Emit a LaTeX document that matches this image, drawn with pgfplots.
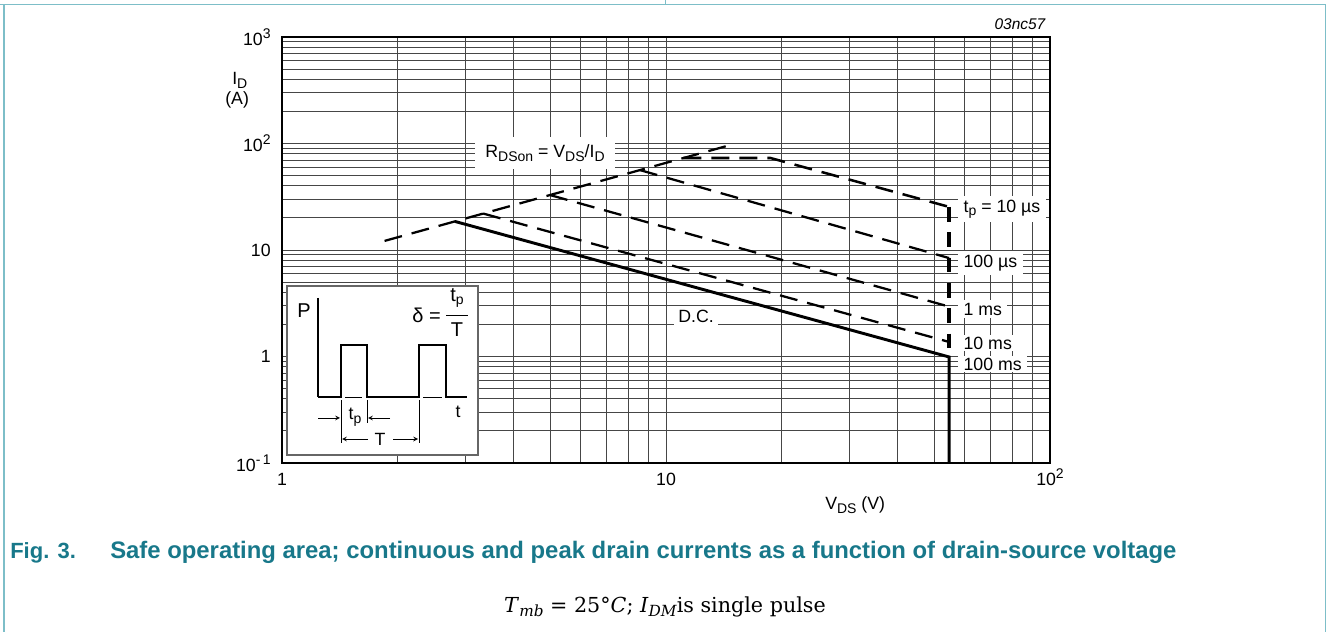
\documentclass[border=0pt]{standalone}
\usepackage{pgfplots}
\pgfplotsset{compat=1.18}
\usepackage{fontspec}
\setmainfont{Liberation Sans}
\newfontfamily\serifTimes{DejaVu Serif}
\definecolor{capcol}{RGB}{24,120,138}
\definecolor{framecol}{RGB}{125,190,200}
\definecolor{gridcol}{RGB}{70,70,70}
\newcommand{\lf}{\fontsize{13.3}{16}\selectfont}
\newcommand{\sub}[1]{\raisebox{-2.6pt}{\fontsize{10.5}{12}\selectfont #1}}
\newcommand{\sups}[1]{\raisebox{5.5pt}{\fontsize{10.5}{12}\selectfont #1}}
\begin{document}
\begin{tikzpicture}
\begin{axis}[
  at={(211.5pt,126.75pt)}, anchor=south west, scale only axis,
  width=576pt, height=319.5pt,
  xmode=log, ymode=log,
  xmin=1, xmax=100, ymin=0.1, ymax=1000,
  axis line style={black, line width=0.8pt},
  grid=both,
  major grid style={gridcol, line width=0.7pt},
  minor grid style={gridcol, line width=0.7pt},
  major tick length=0pt, minor tick length=0pt,
  xtick={1,10,100}, xticklabels={1,10,10\sups{2}},
  minor xtick={2,3,4,5,6,7,8,9,20,30,40,50,60,70,80,90},
  ytick={0.1,1,10,100,1000},
  yticklabels={10\sups{-\,1},1,10,10\sups{2},10\sups{3}},
  minor ytick={0.2,0.3,0.4,0.5,0.6,0.7,0.8,0.9,2,3,4,5,6,7,8,9,20,30,40,50,60,70,80,90,200,300,400,500,600,700,800,900},
  /pgf/number format/assume math mode=true,
  tick label style={font=\lf},
  xticklabel style={yshift=-4pt, anchor=base, yshift=-13pt},
  yticklabel style={xshift=-5pt},
]
% R_DSon limit
\addplot[black, line width=1.7pt, dash pattern=on 13.5pt off 7.5pt] coordinates {(1.85,12.17) (14.7,96.7)};
% 10 us
\addplot[black, line width=1.9pt, dash pattern=on 13.5pt off 7.5pt] coordinates {(11.1,73.1) (18.7,73.1) (54.6,25.4)};
% 100 us
\addplot[black, line width=1.7pt, dash pattern=on 13.5pt off 7.5pt] coordinates {(8.55,56.3) (54.6,8.4)};
% 1 ms
\addplot[black, line width=1.7pt, dash pattern=on 13.5pt off 7.5pt] coordinates {(4.99,32.8) (54.6,2.94)};
% 10 ms
\addplot[black, line width=1.7pt, dash pattern=on 13.5pt off 7.5pt] coordinates {(3.34,22.0) (54.6,1.37)};
% DC
\addplot[black, line width=2.2pt] coordinates {(2.82,18.55) (54.6,0.99) (54.6,0.1)};
% vertical boundary (pulsed)
\addplot[black, line width=2.4pt, dash pattern=on 11pt off 8pt] coordinates {(54.6,25.4) (54.6,0.99)};
\end{axis}

\begin{scope}[x=0.75pt,y=0.75pt]
\path[use as bounding box] (0,0) rectangle (1328,632);
% page frame
\draw[framecol, line width=1.1pt] (0,627.5) -- (1326,627.5);
\draw[framecol, line width=1.1pt] (4,627.5) -- (4,0);
\draw[framecol, line width=1.1pt] (1325.7,627.5) -- (1325.7,0);
\draw[framecol, line width=1.1pt] (665.7,632) -- (665.7,627.5);

% annotations
\node[fill=white, inner xsep=8pt, inner ysep=6pt, font=\lf] at (545,632-153)
  {R\sub{DSon} = V\sub{DS}/I\sub{D}};
\node[fill=white, inner sep=3pt, font=\lf] at (696,632-316) {D.C.};
\node[fill=white, anchor=west, inner xsep=4pt, inner ysep=3pt, font=\lf] at (958,632-209) {t\sub{p} = 10 µs};
\node[fill=white, anchor=west, inner xsep=4pt, inner ysep=3pt, font=\lf] at (958,632-263) {100 µs};
\node[fill=white, anchor=west, inner xsep=4pt, inner ysep=2pt, font=\lf] at (958,632-309) {1 ms};
\node[fill=white, anchor=west, inner xsep=4pt, inner ysep=1pt, font=\lf] at (958,632-343) {10 ms};
\node[fill=white, anchor=west, inner xsep=4pt, inner ysep=1pt, font=\lf] at (958,632-364) {100 ms};

\node[anchor=east, font=\fontsize{11.6}{14}\selectfont\itshape] at (1050,632-24) {03nc57};
\node[anchor=base west, inner sep=0pt, font=\lf] at (232,632-85) {I\sub{D}};
\node[anchor=base west, inner sep=0pt, font=\lf] at (225,632-105) {(A)};
\node[anchor=base west, inner sep=0pt, font=\lf] at (825,632-510) {V\sub{DS} (V)};

% inset
\draw[black!60, line width=0.8pt, fill=white] (287,632-286) rectangle (478,632-455);
\draw[black, line width=0.8pt] (318,632-298) -- (318,632-397);
\draw[black, line width=1.8pt, line join=miter] (318,632-397) -- (341,632-397) -- (341,632-345) -- (367,632-345) -- (367,632-397)
  -- (419,632-397) -- (419,632-345) -- (446,632-345) -- (446,632-397) -- (467,632-397);
\draw[white, line width=2.2pt] (344,632-397) -- (364,632-397) (422,632-397) -- (443,632-397);
\draw[black, line width=0.6pt] (345,632-397) -- (362,632-397) (423,632-397) -- (442,632-397);
\draw[black, line width=0.6pt] (341,632-400) -- (341,632-443) (367,632-400) -- (367,632-423) (419,632-400) -- (419,632-443);
\draw[black, line width=0.6pt, -stealth] (318,632-418) -- (340,632-418);
\draw[black, line width=0.6pt, -stealth] (390,632-418) -- (368,632-418);
\draw[black, line width=0.6pt, -stealth] (368,632-439) -- (342,632-439);
\draw[black, line width=0.6pt, -stealth] (393,632-439) -- (418,632-439);
\node[font=\lf, inner sep=0pt] at (355,632-417) {t\sub{p}};
\node[font=\lf, inner sep=0pt] at (380,632-439) {T};
\node[font=\lf, inner sep=0pt] at (458,632-412) {t};
\node[font=\fontsize{15}{18}\selectfont, inner sep=0pt] at (304,632-311) {P};
\node[font=\fontsize{15}{18}\selectfont, inner sep=0pt, anchor=east] at (441,632-315) {δ =};
\node[font=\fontsize{15}{18}\selectfont, inner sep=0pt] at (457,632-298) {t\sub{p}};
\draw[black, line width=0.6pt] (446,632-315) -- (468,632-315);
\node[font=\fontsize{15}{18}\selectfont, inner sep=0pt] at (457,632-330) {T};

% caption
\node[anchor=base west, inner sep=0pt, text=capcol, font=\fontsize{16.5}{20}\selectfont\bfseries] at (10,632-559) {Fig. 3.};
\node[anchor=base west, inner sep=0pt, text=capcol, font=\fontsize{17.9}{20}\selectfont\bfseries] at (110,632-559)
  {Safe operating area; continuous and peak drain currents as a function of drain-source voltage};
\node[anchor=base, inner sep=0pt, font=\serifTimes\fontsize{15.5}{18}\selectfont] at (665,632-612)
  {\textit{T}\raisebox{-3pt}{\fontsize{11.5}{13}\selectfont\textit{mb}} = 25°\textit{C}; \textit{I}\raisebox{-3pt}{\fontsize{11.5}{13}\selectfont\textit{DM}}is single pulse};
\end{scope}
\end{tikzpicture}
\end{document}
